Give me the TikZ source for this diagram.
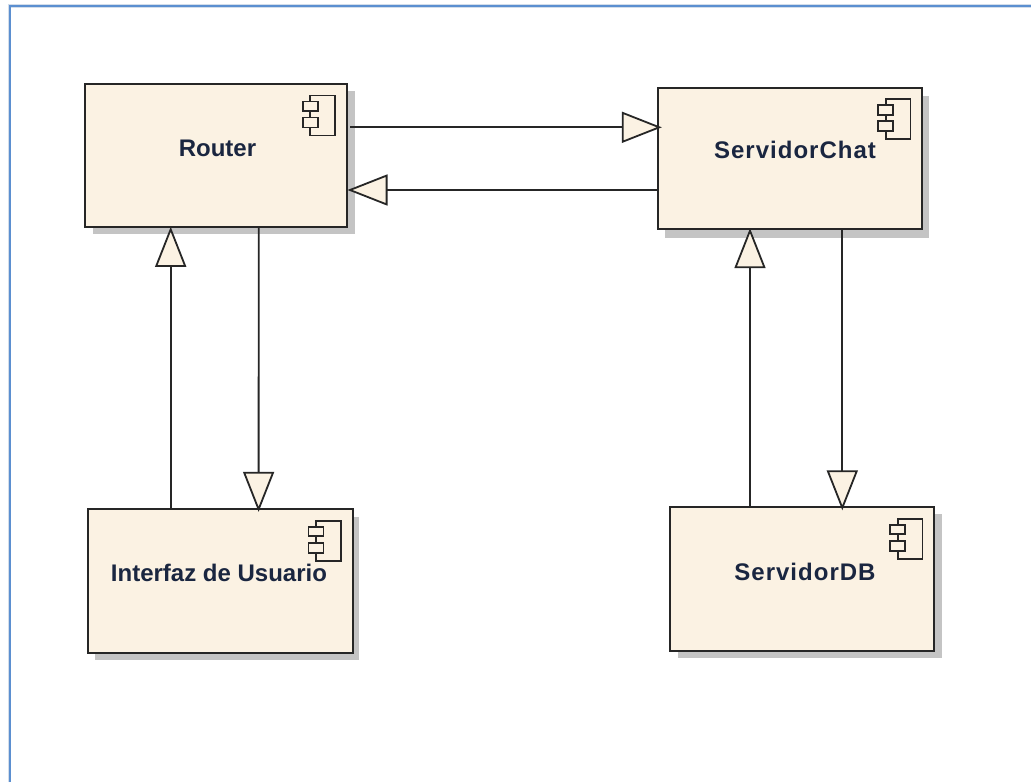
\documentclass[tikz,border=0pt]{standalone}
\usepackage{fontspec}
\setmainfont{Liberation Sans}
\usetikzlibrary{arrows.meta,shadows}
\definecolor{cream}{HTML}{FBF2E3}
\definecolor{edgec}{HTML}{262626}
\definecolor{shadowc}{HTML}{C4C4C4}
\definecolor{framec}{HTML}{5B8FD0}
\definecolor{framehalo}{HTML}{D3DDEA}
\definecolor{textc}{HTML}{1A2640}
\tikzset{
  comp/.style 2 args={draw=edgec,fill=cream,line width=2pt,rectangle,inner sep=0pt,outer sep=0pt,anchor=north west,
    general shadow={fill=shadowc,draw=none,shadow xshift=#1pt,shadow yshift=-#2pt}},
  lbl/.style={font=\fontsize{24}{28}\selectfont\bfseries,text=textc,inner sep=0pt},
  wide/.style={font=\fontsize{24}{28}\selectfont\bfseries\addfontfeature{LetterSpace=4.2}},
  conn/.style={draw=edgec,line width=1.8pt,-{Triangle[length=40pt,width=31pt,fill=cream,line width=1.8pt]}},
  icon/.pic={
    \draw[edgec,line width=1.7pt,fill=cream] (-36.5,11.5) rectangle (-11.7,51.5);
    \draw[edgec,line width=1.7pt,fill=cream] (-44,17.5) rectangle (-29,27);
    \draw[edgec,line width=1.7pt,fill=cream] (-44,33.5) rectangle (-29,43.5);
  }
}
\begin{document}
\begin{tikzpicture}[x=1pt,y=-1pt]
\useasboundingbox (0,0) rectangle (1031,782);
\fill[white] (0,0) rectangle (1031,782);
\draw[framehalo,line width=3.5pt] (9.5,782) -- (9.5,6) -- (1031,6);
\draw[framec,line width=2pt] (9.5,782) -- (9.5,6) -- (1031,6);

\node[comp={8.5}{7},minimum width=262.2pt,minimum height=143.3pt] (router) at (84.5,84) {};
\node[comp={6.5}{8.5},minimum width=264pt,minimum height=141.6pt] (chat) at (658.3,87.7) {};
\node[comp={6.6}{7.3},minimum width=264.2pt,minimum height=143.4pt] (ui) at (88.4,509.3) {};
\node[comp={8}{7},minimum width=264.3pt,minimum height=143.7pt] (db) at (670,507.3) {};

\pic at (router.north east) {icon};
\pic at (chat.north east) {icon};
\pic at (ui.north east) {icon};
\pic at (db.north east) {icon};

\node[lbl] (routerL) at (217.5,148) {Router};
\node[lbl,wide] (chatL) at (795,150) {ServidorChat};
\node[lbl] (uiL) at (219,573) {Interfaz de Usuario};
\node[lbl,wide] (dbL) at (805,572) {ServidorDB};

\draw[conn] ([shift={(3.3,43.3)}]router.north east) -- ([shift={(3.5,39.6)}]chat.north west);
\draw[conn] ([shift={(0,102.3)}]chat.north west) -- ([shift={(0.8,106)}]router.north east);
\draw[conn] ([shift={(82.3,0)}]ui.north west) -- ([shift={(86.2,-0.5)}]router.south west);
\draw[conn] ([shift={(174.2,0)}]router.south west) -- ([shift={(170.2,2.5)}]ui.north west);
\draw[conn] ([shift={(80,0)}]db.north west) -- ([shift={(91.7,-1.1)}]chat.south west);
\draw[conn] ([shift={(184,0)}]chat.south west) -- ([shift={(172.3,3)}]db.north west);
\end{tikzpicture}
\end{document}
